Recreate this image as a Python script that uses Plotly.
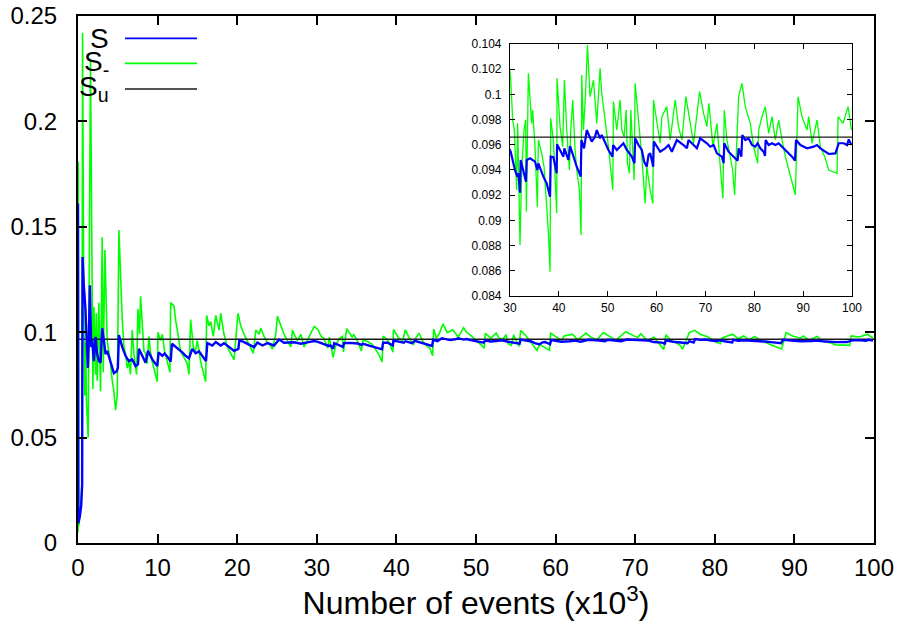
import plotly.graph_objects as go

# ---------------- data (x in thousands of events) ----------------
# S  (blue)
s_x = [0.0, 0.04, 0.23, 0.40, 0.52, 0.57, 0.73, 0.94, 1.1, 1.24, 1.36, 1.49, 1.66, 1.78, 1.99,
       2.2, 2.41, 2.62, 2.83, 3.04, 3.25, 3.46, 3.67, 4.09, 4.51, 4.84, 5.01, 5.14, 5.56, 5.97,
       6.39, 6.81, 7.23, 7.53, 7.65, 8.07, 8.49, 8.79, 9.33, 9.96, 10.13, 10.59, 10.88, 11.3,
       11.64, 11.8, 12.26, 12.68, 13.1, 13.52, 13.94, 14.36, 14.78, 15.2, 15.62, 16.08, 16.25,
       16.88, 17.3, 17.93, 18.34, 18.97, 19.6, 20.15, 20.27, 20.86, 21.49, 22.12, 22.54, 23.17,
       23.8, 24.63, 25.26, 25.89, 27.15, 27.99, 28.83, 29.66,
       30.14, 31.02, 31.5, 31.71, 32.05, 32.19, 33.28, 33.42, 34.1, 35.12, 35.6, 35.81, 36.83,
       37.51, 38.2, 38.33, 38.88, 39.56, 39.63, 40.59, 40.93, 41.13, 41.95, 42.3, 42.98, 43.66,
       44.48, 44.62, 45.16, 45.71, 46.73, 47.42, 47.76, 48.44, 48.78, 49.47, 50.15, 50.97, 51.11,
       51.86, 52.54, 53.22, 53.91, 54.93, 55.48, 55.61, 56.3, 56.98, 57.46, 58.0, 58.35, 58.69,
       59.17, 59.3, 59.44, 60.05, 60.74, 61.76, 62.45, 63.13, 64.15, 65.52, 66.2, 66.54, 67.57,
       68.25, 68.93, 70.3, 70.98, 71.67, 72.35, 73.37, 73.72, 73.85, 74.74, 75.42, 76.11, 76.58,
       76.79, 77.34, 77.54, 78.16, 78.84, 79.52, 80.2, 80.68, 81.23, 81.91, 82.19, 82.32, 82.94,
       83.62, 84.3, 84.99, 85.67, 86.35, 87.04, 87.72, 88.33, 88.54, 89.43, 90.79, 92.16, 92.84,
       93.52, 94.55, 95.23, 96.6, 97.28, 98.31, 98.99, 99.33, 99.88]
s_y = [0.161, 0.0094, 0.0127, 0.0176, 0.0274, 0.1357, 0.1223, 0.1109, 0.095, 0.0831, 0.0962,
       0.1223, 0.093, 0.0962, 0.0863, 0.0978, 0.0896, 0.0863, 0.0855, 0.1019, 0.0962, 0.0896,
       0.0912, 0.0855, 0.0806, 0.0814, 0.0831, 0.0986, 0.0929, 0.0888, 0.0863, 0.0871, 0.0839,
       0.0847, 0.0921, 0.0888, 0.0855, 0.0912, 0.0871, 0.0839, 0.0904, 0.0888, 0.0899, 0.0880,
       0.0860, 0.0945, 0.0932, 0.0916, 0.0904, 0.0888, 0.0876, 0.0921, 0.0900, 0.0909, 0.0888,
       0.0863, 0.0948, 0.0937, 0.0953, 0.0937, 0.0948, 0.0929, 0.0912, 0.0921, 0.0962, 0.0953,
       0.0942, 0.0929, 0.0951, 0.0937, 0.0948, 0.0937, 0.0965, 0.0950, 0.0952, 0.0945, 0.0952,
       0.0958,
       0.09545, 0.0940, 0.09347, 0.09374, 0.0922, 0.0948, 0.09307, 0.0948, 0.09493, 0.09466,
       0.0940, 0.09453, 0.09347, 0.09294, 0.09188, 0.09506, 0.09501, 0.09374, 0.09604, 0.09532,
       0.09506, 0.09572, 0.0948, 0.0959, 0.09506, 0.09426, 0.09347, 0.09638, 0.09572, 0.09717,
       0.09625, 0.09665, 0.09717, 0.09651, 0.09678, 0.09612, 0.09559, 0.09506, 0.09598, 0.09559,
       0.09585, 0.09612, 0.09559, 0.09506, 0.09453, 0.09651, 0.09598, 0.09559, 0.09466, 0.09426,
       0.09519, 0.09532, 0.09453, 0.09426, 0.09625, 0.09585, 0.09545, 0.09572, 0.09598, 0.09545,
       0.09638, 0.09598, 0.09572, 0.09638, 0.09598, 0.09572, 0.09651, 0.09612, 0.09585, 0.09598,
       0.09532, 0.09506, 0.09453, 0.09612, 0.09545, 0.09519, 0.09493, 0.09474, 0.09572, 0.09506,
       0.09678, 0.09638, 0.09651, 0.09598, 0.09585, 0.09612, 0.09572, 0.09545, 0.09511, 0.09638,
       0.09598, 0.09612, 0.09598, 0.09612, 0.09585, 0.09559, 0.09532, 0.09506, 0.09474, 0.09638,
       0.09598, 0.09572, 0.09585, 0.09598, 0.09572, 0.09545, 0.09527, 0.09532, 0.09612, 0.09612,
       0.09598, 0.09643, 0.09598]

# S-  (green)
sm_x = [0.0, 0.03, 0.1, 0.3, 0.5, 0.57, 0.73, 0.85, 0.95, 1.07, 1.28, 1.57, 1.87, 2.0, 2.2, 2.3,
        2.41, 2.62, 2.83, 3.04, 3.17, 3.38, 3.67, 4.09, 4.3, 4.51, 4.72, 4.93, 5.14, 5.35, 5.56,
        5.77, 5.97, 6.18, 6.39, 6.6, 6.81, 7.02, 7.36, 7.53, 7.74, 7.86, 8.07, 8.28, 8.49, 8.7,
        8.91, 9.12, 9.33, 9.67, 9.96, 10.04, 10.38, 10.59, 10.88, 11.22, 11.55, 11.64, 12.06,
        12.26, 12.56, 12.89, 13.31, 13.73, 13.94, 14.15, 14.49, 14.7, 14.99, 15.41, 16.04, 16.16,
        16.46, 16.67, 17.0, 17.3, 17.72, 17.93, 18.34, 18.76, 19.18, 19.6, 20.1, 20.44, 20.86,
        21.28, 21.7, 22.03, 22.33, 22.75, 22.96, 23.38, 23.8, 24.13, 24.42, 24.84, 25.05, 25.47,
        25.89, 26.31, 26.73, 26.94, 27.15, 27.57, 27.99, 28.41, 28.83, 29.67,
        30.14, 30.55, 30.89, 31.37, 31.57, 32.05, 32.39, 32.87, 33.21, 33.35, 33.76, 34.44, 34.64,
        35.12, 35.6, 35.81, 36.49, 36.97, 37.38, 37.86, 38.2, 38.33, 38.88, 39.22, 39.56, 39.63,
        40.25, 40.79, 41.13, 41.61, 42.16, 42.43, 42.84, 43.32, 43.66, 44.21, 44.55, 44.69, 45.03,
        45.44, 45.85, 46.39, 47.08, 47.76, 48.44, 48.78, 49.33, 50.15, 50.63, 51.04, 51.17, 51.86,
        52.54, 52.88, 53.36, 53.77, 54.04, 54.45, 54.73, 55.41, 55.61, 56.3, 56.98, 57.66, 58.0,
        58.69, 59.23, 59.37, 60.05, 60.74, 61.08, 62.1, 62.79, 63.81, 64.49, 65.18, 66.0, 67.23,
        67.57, 68.8, 69.62, 70.3, 70.71, 71.53, 72.35, 73.03, 73.58, 73.85, 74.4, 75.08, 75.56,
        75.97, 76.79, 77.47, 78.16, 79.18, 79.86, 80.68, 80.89, 81.57, 82.25, 82.94, 83.62, 84.3,
        84.99, 85.67, 86.35, 87.24, 88.4, 88.95, 89.77, 90.79, 91.13, 91.82, 92.84, 93.52, 94.41,
        95.23, 96.94, 97.14, 98.17, 99.19, 99.88]
sm_y = [0.005, 0.181, 0.008, 0.016, 0.028, 0.242, 0.110, 0.070, 0.095, 0.066, 0.050, 0.229,
        0.073, 0.112, 0.080, 0.109, 0.077, 0.114, 0.072, 0.145, 0.081, 0.139, 0.096, 0.085, 0.077,
        0.072, 0.063, 0.070, 0.1485, 0.126, 0.106, 0.093, 0.090, 0.083, 0.086, 0.080, 0.101,
        0.090, 0.080, 0.111, 0.099, 0.117, 0.103, 0.091, 0.090, 0.085, 0.098, 0.090, 0.086, 0.080,
        0.0765, 0.100, 0.096, 0.099, 0.091, 0.086, 0.081, 0.114, 0.1125, 0.106, 0.098, 0.091,
        0.088, 0.085, 0.080, 0.106, 0.093, 0.090, 0.096, 0.086, 0.0765, 0.108, 0.103, 0.105,
        0.098, 0.108, 0.101, 0.109, 0.099, 0.093, 0.090, 0.087, 0.109, 0.103, 0.099, 0.096, 0.093,
        0.090, 0.101, 0.099, 0.102, 0.098, 0.095, 0.094, 0.092, 0.099, 0.1076, 0.103, 0.099,
        0.096, 0.093, 0.101, 0.099, 0.096, 0.099, 0.093, 0.096, 0.1027,
        0.10128, 0.09797, 0.09717, 0.09241, 0.0977, 0.08805, 0.094, 0.09717, 0.09797, 0.09069,
        0.10167, 0.0977, 0.09876, 0.09585, 0.09109, 0.09638, 0.09532, 0.09426, 0.09188, 0.08897,
        0.08593, 0.0981, 0.09638, 0.094, 0.09056, 0.10128, 0.09744, 0.09585, 0.10114, 0.09717,
        0.094, 0.09717, 0.09956, 0.09559, 0.094, 0.09241, 0.08884, 0.10154, 0.09717, 0.09982,
        0.10392, 0.09982, 0.10114, 0.0977, 0.10207, 0.10008, 0.0985, 0.09585, 0.094, 0.09241,
        0.09942, 0.09717, 0.09956, 0.09717, 0.09665, 0.09876, 0.09453, 0.09374, 0.09876, 0.09321,
        0.10088, 0.09823, 0.09506, 0.09135, 0.09426, 0.09241, 0.09135, 0.09956, 0.0977, 0.09612,
        0.09823, 0.09903, 0.09638, 0.09956, 0.09744, 0.09638, 0.09982, 0.09717, 0.09612, 0.10022,
        0.0985, 0.09744, 0.09929, 0.09585, 0.0977, 0.09426, 0.09175, 0.09876, 0.09638, 0.09506,
        0.094, 0.09202, 0.09982, 0.10088, 0.09903, 0.0977, 0.09585, 0.09453, 0.09717, 0.09823,
        0.09903, 0.0969, 0.09823, 0.09638, 0.09797, 0.09638, 0.09506, 0.09374, 0.09202, 0.09982,
        0.09823, 0.09717, 0.09823, 0.09612, 0.09797, 0.09585, 0.09506, 0.094, 0.09374, 0.09823,
        0.0977, 0.09903, 0.09717]

# Su (black, constant)
su_x = [0, 100]
su_y = [0.0966, 0.0966]

# axis ticks
main_xticks = [0, 10, 20, 30, 40, 50, 60, 70, 80, 90, 100]
main_yticks = [0, 0.05, 0.1, 0.15, 0.2, 0.25]
inset_xticks = [30, 40, 50, 60, 70, 80, 90, 100]
inset_yticks = [0.084, 0.086, 0.088, 0.09, 0.092, 0.094, 0.096, 0.098, 0.1, 0.102, 0.104]

legend_labels = ["S", "S<sub>-</sub>", "S<sub>u</sub>"]

BLUE = "#0000ff"
GREEN = "#00ff00"
BLACK = "#1a1a1a"
FONT = "Liberation Sans, Arial, Helvetica, sans-serif"

fig = go.Figure()

# main plot
fig.add_trace(go.Scatter(x=sm_x, y=sm_y, mode="lines", line=dict(color=GREEN, width=1.6),
                         xaxis="x", yaxis="y", showlegend=False))
fig.add_trace(go.Scatter(x=su_x, y=su_y, mode="lines", line=dict(color=BLACK, width=1.5),
                         xaxis="x", yaxis="y", showlegend=False))
fig.add_trace(go.Scatter(x=s_x, y=s_y, mode="lines", line=dict(color=BLUE, width=2.4),
                         xaxis="x", yaxis="y", showlegend=False))

# inset
fig.add_trace(go.Scatter(x=sm_x, y=sm_y, mode="lines", line=dict(color=GREEN, width=1.3),
                         xaxis="x2", yaxis="y2", showlegend=False))
fig.add_trace(go.Scatter(x=su_x, y=su_y, mode="lines", line=dict(color=BLACK, width=1.2),
                         xaxis="x2", yaxis="y2", showlegend=False))
fig.add_trace(go.Scatter(x=s_x, y=s_y, mode="lines", line=dict(color=BLUE, width=2.2),
                         xaxis="x2", yaxis="y2", showlegend=False))

axis_common = dict(showgrid=False, zeroline=False, showline=True, linecolor="black",
                   ticks="inside", mirror="ticks", tickcolor="black", automargin=False,
                   ticklabeloverflow="allow")

fig.update_layout(
    width=902, height=630,
    margin=dict(l=78, r=28, t=16, b=87),
    paper_bgcolor="white", plot_bgcolor="white",
    font=dict(family=FONT, color="black"),
    xaxis=dict(**axis_common, range=[0, 100], tickvals=main_xticks, linewidth=2, ticklen=9,
               tickwidth=1.5, tickfont=dict(size=24), ticklabelstandoff=2,
               title=dict(text="Number of events (x10<sup>3</sup>)", font=dict(size=32), standoff=5)),
    yaxis=dict(**axis_common, range=[0, 0.25], tickvals=main_yticks, linewidth=2, ticklen=9,
               tickwidth=1.5, tickfont=dict(size=24), ticklabelstandoff=14),
    xaxis2=dict(**axis_common, domain=[0.5427, 0.9724], anchor="y2", range=[30, 100],
                tickvals=inset_xticks, linewidth=1.2, ticklen=5, tickwidth=1,
                tickfont=dict(size=12), ticklabelstandoff=1),
    yaxis2=dict(**axis_common, domain=[0.4687, 0.9469], anchor="x2", range=[0.084, 0.104],
                tickvals=inset_yticks, linewidth=1.2, ticklen=5, tickwidth=1,
                tickfont=dict(size=12), ticklabelstandoff=5),
)

# gnuplot-style key: label text on the left, line sample on the right
key_colors = [BLUE, GREEN, BLACK]
key_y = [0.9575, 0.9101, 0.8615]
for lab, col, ky in zip(legend_labels, key_colors, key_y):
    fig.add_annotation(text=lab, xref="paper", yref="paper", x=0.041, y=ky,
                       xanchor="right", yanchor="middle", showarrow=False,
                       font=dict(size=28, family=FONT, color="black"))
    fig.add_shape(type="line", xref="paper", yref="paper", x0=0.059, x1=0.1495, y0=ky, y1=ky,
                  line=dict(color=col, width=1.6))

# remove the default page margin so the figure fills the window exactly; no mode bar
fig.write_html("out.html", config={"displayModeBar": False},
               post_script="document.body.style.margin='0px';")
